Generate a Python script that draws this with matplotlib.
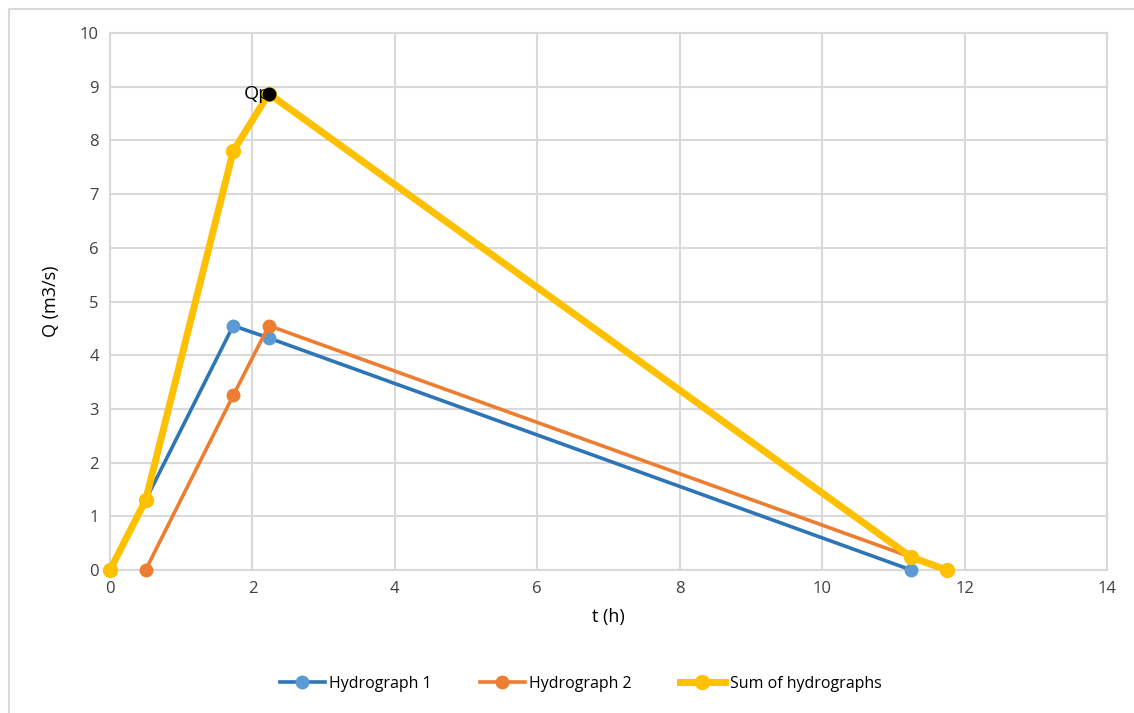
import matplotlib
matplotlib.use("Agg")
import matplotlib.pyplot as plt
from matplotlib.lines import Line2D

# hydrograph data
t_h1 = [0, 0.5, 1.73, 2.23, 11.25]
q_h1 = [0, 1.3, 4.55, 4.32, 0]

t_h2 = [0.5, 1.73, 2.23, 11.75]
q_h2 = [0, 3.25, 4.55, 0]

t_sum = [0, 0.5, 1.73, 2.23, 11.25, 11.75]
q_sum = [0, 1.3, 7.8, 8.87, 0.24, 0]

t_peak = [2.23]
q_peak = [8.87]

x_ticks = [0, 2, 4, 6, 8, 10, 12, 14]
y_ticks = [0, 1, 2, 3, 4, 5, 6, 7, 8, 9, 10]

plt.rcParams['font.family'] = ['Open Sans', 'DejaVu Sans']

fig = plt.figure(figsize=(11.34, 7.13), dpi=100)
ax = fig.add_axes([110 / 1134, 1 - 570 / 713, (1107 - 110) / 1134, (570 - 33) / 713])

ax.plot(t_h1, q_h1, color='#2E75B6', lw=2.6, marker='o', ms=9,
        mfc='#5B9BD5', mec='#5B9BD5', label='Hydrograph 1', zorder=3, clip_on=False)
ax.plot(t_h2, q_h2, color='#ED7D31', lw=2.6, marker='o', ms=9,
        mfc='#ED7D31', mec='#ED7D31', label='Hydrograph 2', zorder=3, clip_on=False)
ax.plot(t_sum, q_sum, color='#FFC000', lw=5, marker='o', ms=10,
        mfc='#FFC000', mec='#FFC000', label='Sum of hydrographs', zorder=4, clip_on=False)
ax.plot(t_peak, q_peak, 'o', color='black', ms=9, zorder=5, clip_on=False)
ax.text(t_peak[0] + 0.03, q_peak[0], 'Qp', ha='right', va='center', fontsize=14, zorder=6)

ax.set_xlim(0, 14)
ax.set_ylim(0, 10)
ax.set_xticks(x_ticks)
ax.set_yticks(y_ticks)
ax.tick_params(length=0, labelsize=12, colors='#404040', pad=8)
ax.grid(color='#D9D9D9', lw=1.5)
ax.set_axisbelow(True)
for s in ax.spines.values():
    s.set_color('#D9D9D9')
    s.set_linewidth(1.5)

ax.set_xlabel('t (h)', fontsize=13, labelpad=8)
ax.set_ylabel('Q (m3/s)', fontsize=13, labelpad=14)

ax.legend(loc='upper center', bbox_to_anchor=(0.472, -0.17), ncol=3, frameon=False,
          fontsize=11.5, handlelength=2.8, handletextpad=0.3, columnspacing=3.0)

# chart area border (cropped)
fig.add_artist(Line2D([9 / 1134, 9 / 1134, 1.0], [0, 1 - 9 / 713, 1 - 9 / 713],
                      transform=fig.transFigure, color='#D9D9D9', lw=1.5))

fig.savefig('out.png', dpi=100)
